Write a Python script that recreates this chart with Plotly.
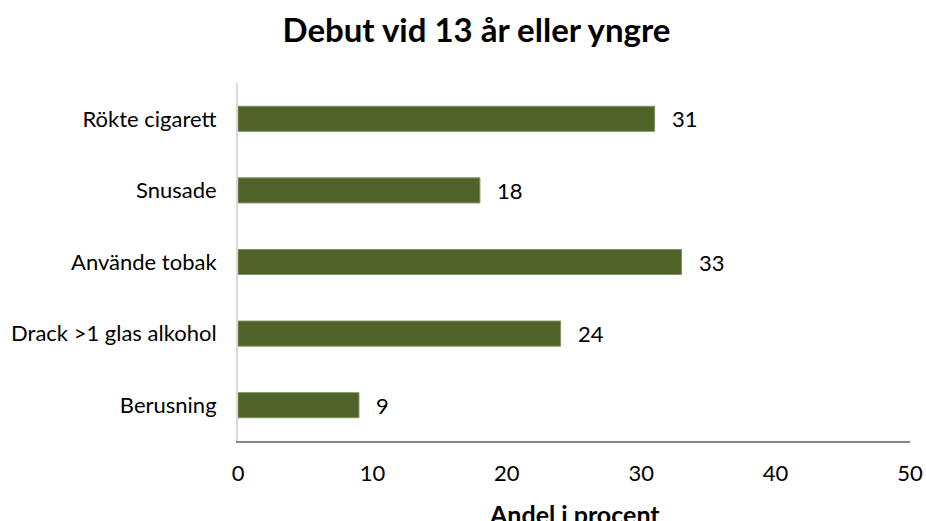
import plotly.graph_objects as go

categories = ["Rökte cigarett", "Snusade", "Använde tobak", "Drack >1 glas alkohol", "Berusning"]
values = [31, 18, 33, 24, 9]
x_ticks = [0, 10, 20, 30, 40, 50]
title_text = "Debut vid 13 år eller yngre"
x_title = "Andel i procent"

FONT = "Lato"
BAR = "#4F6228"
FS = 22

fig = go.Figure()
fig.add_trace(go.Bar(
    y=categories,
    x=values,
    orientation="h",
    width=0.35,
    marker=dict(color=BAR, line=dict(color="#7E9460", width=1)),
    hoverinfo="skip",
))

for c, v in zip(categories, values):
    fig.add_annotation(x=v, y=c, xref="x", yref="y", text=str(v), showarrow=False,
                       xanchor="left", xshift=15, font=dict(family=FONT, size=FS, color="#000000"))

fig.add_annotation(x=0.5, y=0, xref="paper", yref="paper", text="<b>" + x_title + "</b>",
                   showarrow=False, xanchor="center", yanchor="top", yshift=-56,
                   font=dict(family=FONT, size=25, color="#000000"))

fig.update_layout(
    width=926, height=521,
    margin=dict(l=238, r=16, t=83, b=80),
    paper_bgcolor="white", plot_bgcolor="white",
    showlegend=False,
    title=dict(text="<b>" + title_text + "</b>", x=476.5 / 926, xanchor="center",
               y=1 - 42 / 521, yanchor="bottom", yref="container",
               font=dict(family=FONT, size=33, color="#000000")),
    xaxis=dict(range=[0, 50], tickvals=x_ticks, showgrid=False, zeroline=False,
               showline=True, linecolor="#868686", linewidth=2, automargin=False,
               ticks="", ticklabelstandoff=12,
               tickfont=dict(family=FONT, size=FS, color="#000000")),
    yaxis=dict(categoryorder="array", categoryarray=categories[::-1], automargin=False,
               showgrid=False, zeroline=False, showline=True, linecolor="#D9D9D9", linewidth=2,
               ticks="", ticklabelstandoff=15,
               tickfont=dict(family=FONT, size=FS, color="#000000")),
)

fig.write_html("out.html", config={"displayModeBar": False},
               post_script="document.body.style.margin='0';")
